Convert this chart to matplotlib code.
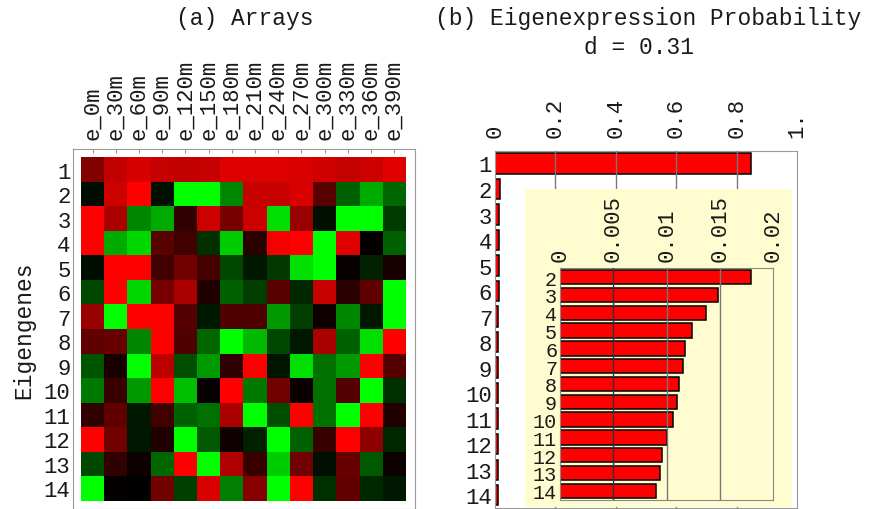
import numpy as np
import matplotlib
matplotlib.use("Agg")
import matplotlib.pyplot as plt
from matplotlib.colors import LinearSegmentedColormap
from matplotlib.patches import Rectangle

plt.rcParams['font.family'] = ['Liberation Mono', 'DejaVu Sans Mono']

# arrays (columns) and eigengenes (rows)
arrays = ['e_0m', 'e_30m', 'e_60m', 'e_90m', 'e_120m', 'e_150m', 'e_180m',
          'e_210m', 'e_240m', 'e_270m', 'e_300m', 'e_330m', 'e_360m', 'e_390m']
eigengenes = list(range(1, 15))

# eigengene expression levels, red = positive, green = negative
levels = [
    [0.50, 0.75, 0.84, 0.77, 0.75, 0.77, 0.86, 0.86, 0.86, 0.85, 0.82, 0.77, 0.80, 0.88],
    [-0.05, 0.80, 1.00, -0.07, -1.00, -1.00, -0.53, 0.78, 0.78, 0.85, 0.35, -0.38, -0.67, -0.40],
    [1.00, 0.67, -0.53, -0.67, 0.19, 0.80, 0.47, 0.80, -0.87, 0.60, -0.06, -1.00, -1.00, -0.23],
    [1.00, -0.67, -0.84, 0.35, 0.25, -0.19, -0.80, 0.16, 0.95, 1.00, -1.00, 0.87, 0.02, -0.38],
    [-0.05, 1.00, 1.00, 0.25, 0.44, 0.28, -0.28, -0.10, -0.22, -0.87, -1.00, 0.03, -0.13, 0.10],
    [-0.28, 1.00, -0.84, 0.47, 0.67, 0.13, -0.38, -0.25, 0.35, -0.16, 0.78, 0.16, 0.38, -1.00],
    [0.60, -1.00, 1.00, 1.00, 0.33, -0.10, 0.31, 0.31, -0.60, -0.25, 0.06, -0.53, -0.10, -1.00],
    [0.38, 0.40, -0.53, 1.00, 0.31, -0.40, -1.00, -0.72, -0.28, -0.10, 0.67, -0.38, -0.87, 1.00],
    [-0.33, 0.10, -1.00, 0.73, -0.31, -0.60, 0.19, 1.00, -0.08, -0.87, -0.44, -0.60, 1.00, 0.33],
    [-0.47, 0.22, -0.60, 1.00, -0.75, 0.03, 1.00, -0.47, 0.44, 0.04, -0.44, 0.33, -1.00, -0.19],
    [0.19, 0.38, -0.10, 0.25, -0.38, -0.44, 0.67, -1.00, -0.31, 1.00, -0.44, -1.00, 1.00, 0.13],
    [1.00, 0.44, -0.10, 0.13, -1.00, -0.35, 0.06, -0.13, -1.00, -0.38, 0.22, 1.00, 0.56, -0.16],
    [-0.28, 0.19, 0.05, -0.40, 1.00, -1.00, 0.69, 0.22, -0.80, 0.44, -0.06, 0.40, -0.35, 0.05],
    [-1.00, 0.02, 0.00, 0.44, -0.25, 0.85, -0.50, 0.53, -1.00, 1.00, -0.19, 0.38, -0.16, -0.10],
]

# eigenexpression fractions
probability = [0.847, 0.01788, 0.01478, 0.01369, 0.01234, 0.01172, 0.01153,
               0.01119, 0.01094, 0.01056, 0.0100, 0.00956, 0.0094, 0.00903]
main_ticks = [0, 0.2, 0.4, 0.6, 0.8, 1.0]
main_ticklabels = ['0', '0.2', '0.4', '0.6', '0.8', '1.']
inset_ticks = [0, 0.005, 0.01, 0.015, 0.02]
inset_ticklabels = ['0', '0.005', '0.01', '0.015', '0.02']

W, H = 870, 510
fig = plt.figure(figsize=(W / 100, H / 100), dpi=100)

def box(x0, y0, x1, y1):
    # pixel box (top-left origin) -> figure fraction rect
    return [x0 / W, 1 - y1 / H, (x1 - x0) / W, (y1 - y0) / H]

txt = '#1a1a1a'
frame = '#999999'
fs = 16
fs_title = 16.5

# ---- (a) heatmap
cmap = LinearSegmentedColormap.from_list('grb', ['#00ff00', '#000000', '#ff0000'])
ax = fig.add_axes(box(73.3, 150, 415, 510))
ax.imshow(np.array(levels), cmap=cmap, vmin=-1, vmax=1, aspect='auto',
          interpolation='nearest', extent=(0.5, 14.5, 14.5, 0.5))
ax.set_xlim(0.17, 14.9)
ax.set_ylim(14.84, 0.16)
ax.xaxis.tick_top()
ax.set_xticks(range(1, 15))
ax.set_xticklabels(arrays, rotation=90, fontsize=fs, color=txt)
ax.set_yticks(eigengenes)
ax.set_yticklabels([str(e) for e in eigengenes], fontsize=fs, color=txt)
ax.tick_params(axis='x', direction='in', length=3, color=frame, pad=7)
ax.tick_params(axis='y', length=0, pad=2)
for s in ax.spines.values():
    s.set_color(frame)
ax.set_ylabel('Eigengenes', fontsize=fs_title, color=txt, labelpad=6)
fig.text(245 / W, 1 - 18 / H, '(a) Arrays', ha='center', va='center',
         fontsize=fs_title, color=txt)

# ---- (b) bars
bx = fig.add_axes(box(495, 151.7, 797.3, 509))
bx.barh(eigengenes, probability, height=0.8, color='#ff0000',
        edgecolor='black', linewidth=1.1, zorder=1)
bx.set_xlim(0, 1)
bx.set_ylim(14.5, 0.5)
bx.xaxis.tick_top()
bx.set_xticks(main_ticks)
bx.set_xticklabels(main_ticklabels, rotation=90, fontsize=fs, color=txt)
bx.set_yticks(eigengenes)
bx.set_yticklabels([str(e) for e in eigengenes], fontsize=fs, color=txt)
bx.tick_params(axis='x', length=0, pad=10)
bx.tick_params(axis='y', length=0, pad=2)
for v in main_ticks[1:-1]:
    bx.axvline(v, color='#777777', lw=1, zorder=3)
for s in bx.spines.values():
    s.set_color(frame)

fig.text(648 / W, 1 - 18 / H, '(b) Eigenexpression Probability', ha='center',
         va='center', fontsize=fs_title, color=txt)
fig.text(639 / W, 1 - 48 / H, 'd = 0.31', ha='center', va='center',
         fontsize=fs_title, color=txt)

# yellow inset background
fig.patches.append(Rectangle((525 / W, 1 - 508 / H), 266.7 / W, 318 / H,
                             transform=fig.transFigure, facecolor='#fffcd0',
                             edgecolor='none', zorder=1))

ix = fig.add_axes(box(560, 269.3, 773.3, 500.7), zorder=2)
ix.set_facecolor('#fffcd0')
ix.barh(eigengenes[1:], probability[1:], height=0.8, color='#ff0000',
        edgecolor='black', linewidth=1.1, zorder=1)
ix.set_xlim(0, 0.02)
ix.set_ylim(14.5, 1.5)
ix.xaxis.tick_top()
ix.set_xticks(inset_ticks)
ix.set_xticklabels(inset_ticklabels, rotation=90, fontsize=fs, color=txt)
ix.set_yticks(eigengenes[1:])
ix.set_yticklabels([str(e) for e in eigengenes[1:]], fontsize=14.5, color=txt)
ix.tick_params(axis='x', length=0, pad=5)
ix.tick_params(axis='y', length=0, pad=2)
for v, c in zip(inset_ticks[1:-1], ['#333333', '#777777', '#777777']):
    ix.axvline(v, color=c, lw=1, zorder=3)
for s in ix.spines.values():
    s.set_color('#888888')

fig.savefig('out.png', dpi=100)
